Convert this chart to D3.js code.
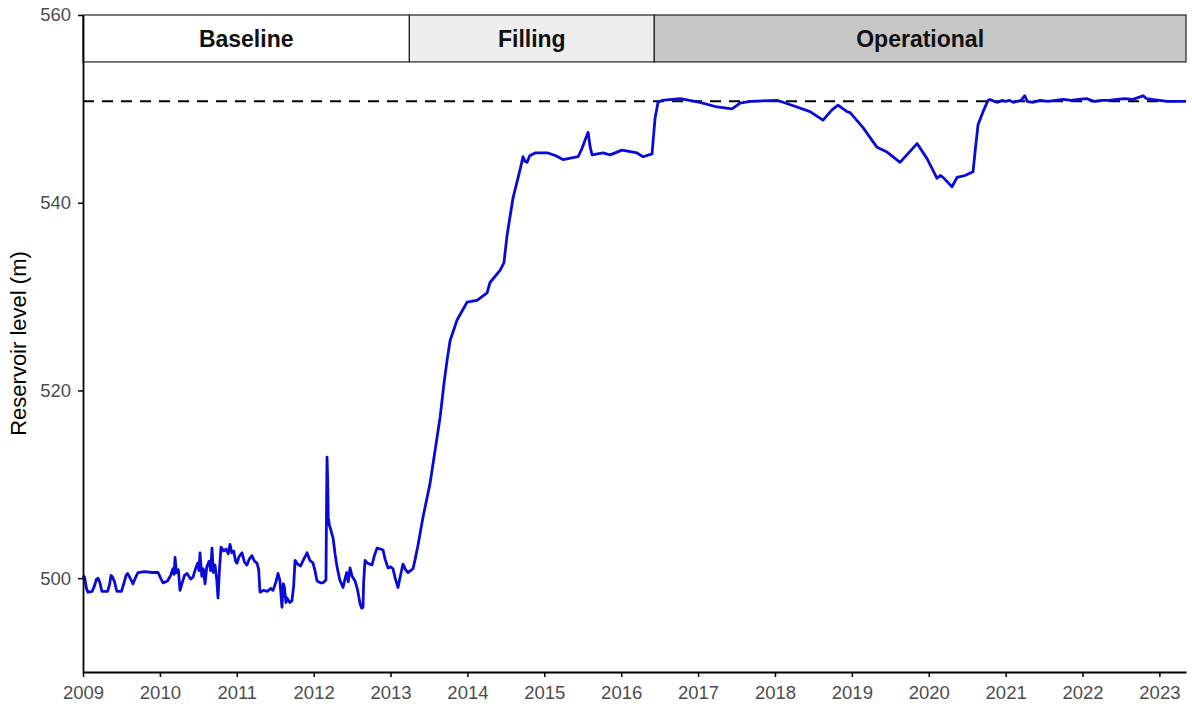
<!DOCTYPE html>
<html>
<head>
<meta charset="utf-8">
<script src="https://cdnjs.cloudflare.com/ajax/libs/d3/7.8.5/d3.min.js"></script>
<style>
body { margin: 0; background: #fff; }
text { font-family: "Liberation Sans", Arial, sans-serif; }
</style>
</head>
<body>
<div id="chart"></div>
<script>
// datos: fecha en años decimales y nivel del embalse (m)
var years = [
  2009.000, 2009.020, 2009.045, 2009.065, 2009.120, 2009.150, 2009.175, 2009.195, 2009.220, 2009.245,
  2009.320, 2009.345, 2009.365, 2009.385, 2009.410, 2009.440, 2009.500, 2009.530, 2009.560, 2009.580,
  2009.620, 2009.650, 2009.680, 2009.715, 2009.800, 2009.900, 2009.976, 2010.010, 2010.041, 2010.100,
  2010.140, 2010.170, 2010.185, 2010.197, 2010.215, 2010.240, 2010.262, 2010.290, 2010.320, 2010.353,
  2010.400, 2010.431, 2010.460, 2010.490, 2010.510, 2010.522, 2010.545, 2010.565, 2010.587, 2010.610,
  2010.640, 2010.660, 2010.678, 2010.695, 2010.717, 2010.740, 2010.756, 2010.775, 2010.795, 2010.830,
  2010.860, 2010.890, 2010.912, 2010.935, 2010.960, 2010.985, 2011.003, 2011.030, 2011.068, 2011.100,
  2011.133, 2011.160, 2011.198, 2011.230, 2011.263, 2011.285, 2011.302, 2011.350, 2011.400, 2011.440,
  2011.471, 2011.510, 2011.536, 2011.560, 2011.588, 2011.605, 2011.620, 2011.640, 2011.653, 2011.690,
  2011.718, 2011.740, 2011.758, 2011.790, 2011.830, 2011.870, 2011.914, 2011.950, 2011.992, 2012.020,
  2012.044, 2012.090, 2012.122, 2012.160, 2012.168, 2012.174, 2012.182, 2012.190, 2012.205, 2012.225,
  2012.252, 2012.280, 2012.304, 2012.340, 2012.382, 2012.410, 2012.430, 2012.450, 2012.473, 2012.500,
  2012.538, 2012.570, 2012.603, 2012.625, 2012.642, 2012.650, 2012.668, 2012.700, 2012.759, 2012.790,
  2012.824, 2012.870, 2012.902, 2012.930, 2012.967, 2013.000, 2013.032, 2013.060, 2013.097, 2013.130,
  2013.162, 2013.195, 2013.227, 2013.260, 2013.292, 2013.320, 2013.357, 2013.422, 2013.514, 2013.579,
  2013.644, 2013.696, 2013.735, 2013.774, 2013.865, 2013.995, 2014.125, 2014.255, 2014.294, 2014.424,
  2014.475, 2014.515, 2014.593, 2014.684, 2014.723, 2014.750, 2014.775, 2014.810, 2014.879, 2015.048,
  2015.150, 2015.243, 2015.439, 2015.491, 2015.569, 2015.595, 2015.621, 2015.764, 2015.855, 2016.011,
  2016.206, 2016.284, 2016.401, 2016.440, 2016.479, 2016.531, 2016.765, 2017.025, 2017.247, 2017.442,
  2017.546, 2017.676, 2018.027, 2018.105, 2018.287, 2018.456, 2018.625, 2018.742, 2018.820, 2018.937,
  2018.977, 2019.146, 2019.328, 2019.458, 2019.627, 2019.848, 2019.978, 2020.108, 2020.150, 2020.186,
  2020.303, 2020.368, 2020.472, 2020.576, 2020.602, 2020.641, 2020.706, 2020.771, 2020.797, 2020.850,
  2020.900, 2020.950, 2021.000, 2021.050, 2021.100, 2021.200, 2021.250, 2021.280, 2021.350, 2021.450,
  2021.550, 2021.650, 2021.750, 2021.850, 2021.950, 2022.050, 2022.150, 2022.250, 2022.350, 2022.450,
  2022.550, 2022.650, 2022.720, 2022.790, 2022.830, 2022.900, 2023.000, 2023.100, 2023.200, 2023.346
];
var levels = [
  500.3, 500.1, 498.9, 498.5, 498.6, 499.2, 499.9, 500.0, 499.5, 498.6,
  498.6, 499.3, 500.3, 500.1, 499.6, 498.6, 498.6, 499.4, 500.3, 500.5,
  499.9, 499.4, 500.0, 500.6, 500.7, 500.6, 500.6, 500.0, 499.5, 499.7,
  500.3, 501.0, 500.4, 502.2, 500.6, 500.9, 498.7, 499.5, 500.3, 500.5,
  499.9, 500.1, 500.9, 501.6, 500.8, 502.7, 500.2, 501.0, 499.4, 501.2,
  501.8, 500.8, 503.2, 500.6, 501.4, 499.8, 497.9, 500.9, 503.3, 502.9,
  503.1, 502.6, 503.6, 502.7, 502.9, 501.8, 501.6, 502.3, 502.7, 501.7,
  501.4, 502.0, 502.4, 501.8, 501.6, 500.9, 498.5, 498.7, 498.6, 498.9,
  498.7, 499.6, 500.5, 499.8, 496.9, 499.4, 499.0, 497.4, 497.9, 497.4,
  497.6, 499.2, 501.9, 501.5, 501.3, 502.0, 502.7, 501.9, 501.6, 500.7,
  499.7, 499.5, 499.5, 499.8, 508.0, 512.9, 510.5, 506.5, 505.6, 505.1,
  504.3, 502.5, 501.2, 499.8, 499.0, 500.0, 500.6, 499.6, 501.1, 500.2,
  499.7, 498.8, 497.3, 496.8, 496.9, 499.5, 501.9, 501.6, 501.4, 502.4,
  503.2, 503.1, 503.0, 502.0, 501.1, 501.2, 501.0, 500.0, 499.0, 500.3,
  501.5, 500.9, 500.6, 500.8, 501.0, 502.0, 503.5, 506.5, 510.1, 513.6,
  517.1, 520.8, 523.2, 525.3, 527.5, 529.4, 529.6, 530.4, 531.5, 532.8,
  533.6, 536.5, 540.5, 543.5, 544.9, 544.4, 544.3, 545.0, 545.3, 545.3,
  545.0, 544.6, 544.9, 545.8, 547.5, 546.0, 545.1, 545.3, 545.1, 545.6,
  545.3, 544.9, 545.2, 549.0, 550.7, 550.9, 551.1, 550.7, 550.2, 550.0,
  550.6, 550.8, 550.9, 550.7, 550.2, 549.7, 548.8, 549.9, 550.4, 549.7,
  549.6, 548.0, 545.9, 545.4, 544.3, 546.3, 544.7, 542.6, 542.9, 542.7,
  541.7, 542.7, 542.9, 543.3, 545.4, 548.3, 549.7, 550.9, 551.0, 550.8,
  550.7, 550.9, 550.8, 550.9, 550.7, 550.9, 551.4, 550.8, 550.7, 550.9,
  550.8, 550.9, 551.0, 550.9, 551.0, 551.1, 550.8, 550.9, 550.9, 551.0,
  551.1, 551.0, 551.2, 551.4, 551.1, 551.0, 550.9, 550.8, 550.8, 550.8
];

var phases = ["Baseline", "Filling", "Operational"],
    phaseStart = [2009, 2013.245, 2016.43],
    phaseEnd = [2013.245, 2016.43, 2023.346];

var fullSupply = 550.8, // linea de nivel maximo (discontinua)
    stripBottom = 555,
    yTicks = [500, 520, 540, 560],
    xTicks = d3.range(2009, 2024),
    xDomain = [2009, 2023.346],
    yDomain = [490, 560];

var margin = {top: 15, right: 6, bottom: 37, left: 83},
    chartWidth = 1192,
    chartHeight = 709,
    width = chartWidth - margin.left - margin.right,
    height = chartHeight - margin.top - margin.bottom;

var svg = d3.select("#chart")
            .append("svg")
            .attr("width", chartWidth)
            .attr("height", chartHeight);

var g = svg.append("g")
           .attr("transform", "translate(" + margin.left + "," + margin.top + ")");

var xScale = d3.scaleLinear().domain(xDomain).range([0, width]),
    yScale = d3.scaleLinear().domain(yDomain).range([height, 0]);

var fill = d3.scaleOrdinal().domain(phases).range(["#ffffff", "#eeeeee", "#c6c6c6"]);

// franjas de fases arriba
var strip = g.selectAll(".phase")
             .data(phases)
             .enter().append("g")
             .attr("class", "phase");

strip.append("rect")
     .attr("x", (d, i) => xScale(phaseStart[i]))
     .attr("y", yScale(560))
     .attr("width", (d, i) => xScale(phaseEnd[i]) - xScale(phaseStart[i]))
     .attr("height", yScale(stripBottom) - yScale(560))
     .attr("fill", d => fill(d))
     .attr("stroke", "#222")
     .attr("stroke-width", 1.2);

strip.append("text")
     .attr("x", (d, i) => (xScale(phaseStart[i]) + xScale(phaseEnd[i])) / 2)
     .attr("y", (yScale(560) + yScale(stripBottom)) / 2)
     .attr("dy", "0.36em")
     .attr("text-anchor", "middle")
     .style("font-size", "23px")
     .style("font-weight", "bold")
     .attr("fill", "#111")
     .text(d => d);

// linea discontinua
g.append("line")
 .attr("x1", 0)
 .attr("x2", width)
 .attr("y1", yScale(fullSupply))
 .attr("y2", yScale(fullSupply))
 .attr("stroke", "#000")
 .attr("stroke-width", 2)
 .attr("stroke-dasharray", "11,8");

var line = d3.line()
             .x((d, i) => xScale(years[i]))
             .y(d => yScale(d));

g.append("path")
 .datum(levels)
 .attr("fill", "none")
 .attr("stroke", "#0a0ad8")
 .attr("stroke-width", 2.8)
 .attr("stroke-linejoin", "round")
 .attr("d", line);

var xAxis = d3.axisBottom(xScale).tickValues(xTicks).tickFormat(d3.format("d")).tickSize(5).tickSizeOuter(0).tickPadding(9),
    yAxis = d3.axisLeft(yScale).tickValues(yTicks).tickFormat(d3.format("d")).tickSize(5).tickSizeOuter(0).tickPadding(7);

g.append("g")
 .attr("transform", "translate(0," + height + ")")
 .call(xAxis);

g.append("g")
 .call(yAxis);

g.selectAll(".domain").attr("stroke", "#000").attr("stroke-width", 1.8);
g.selectAll(".tick line").attr("stroke", "#000").attr("stroke-width", 1.5);
g.selectAll(".tick text")
 .attr("fill", "#4d4d4d")
 .style("font-size", "18.5px")
 .style("font-family", "'Liberation Sans', Arial, sans-serif");

svg.append("text")
   .attr("transform", "translate(26," + (margin.top + height / 2) + ") rotate(-90)")
   .attr("text-anchor", "middle")
   .style("font-size", "22px")
   .attr("fill", "#000")
   .text("Reservoir level (m)");
</script>
</body>
</html>
